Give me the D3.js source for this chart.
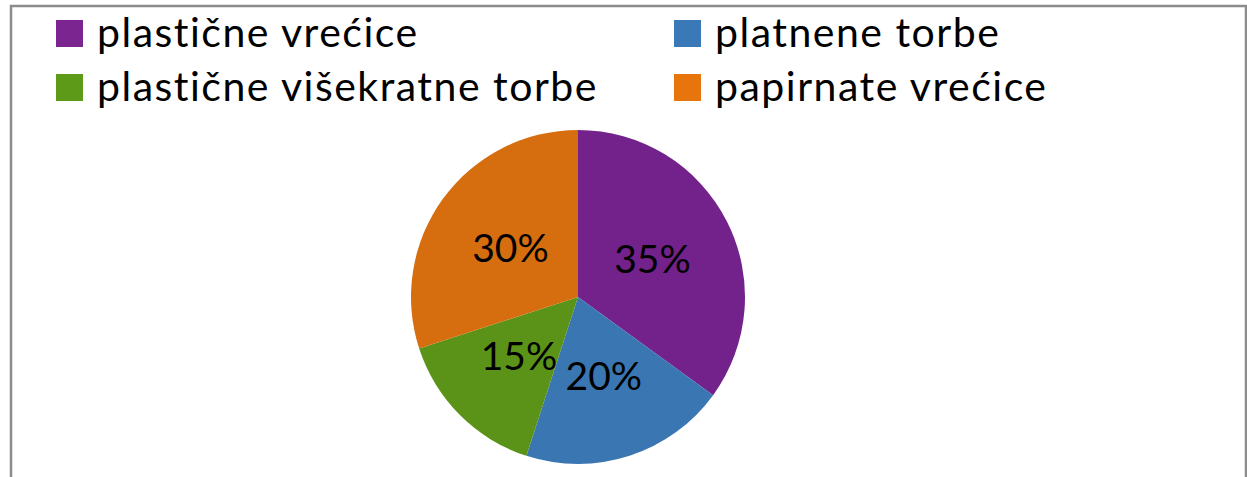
<!DOCTYPE html>
<html>
<head>
<meta charset="utf-8">
<script src="https://cdn.jsdelivr.net/npm/d3@7"></script>
<style>
  body { margin: 0; background: #fff; }
  svg { display: block; font-family: Lato, "Open Sans", sans-serif; }
</style>
</head>
<body>
<div id="chart"></div>
<script>
const categories = ['plastične vrećice', 'platnene torbe', 'plastične višekratne torbe', 'papirnate vrećice'];
const values = [35, 20, 15, 30];
const labels = ['35%', '20%', '15%', '30%'];
const legendColors = ['#7b2590', '#3a78b8', '#5d9a17', '#e8740c'];
const sliceColors = ['#72228a', '#3a77b2', '#5a9317', '#d66e0f'];

function createPie() {
    const width = 1247;
    const height = 477;

    const svg = d3.select('#chart')
        .append('svg')
        .attr('width', width)
        .attr('height', height);

    // chart frame, bottom edge is off the picture
    svg.append('rect')
        .attr('x', 11)
        .attr('y', 6)
        .attr('width', 1235)
        .attr('height', 520)
        .attr('fill', 'none')
        .attr('stroke', '#8c8c8c')
        .attr('stroke-width', 2.5);

    // legend, two columns
    const colX = [56, 674];
    const rowY = [20, 74];
    const legend = svg.append('g').attr('class', 'legend');
    const items = legend.selectAll('g')
        .data(categories)
        .join('g')
        .attr('transform', (d, i) => `translate(${colX[i % 2]}, ${rowY[Math.floor(i / 2)]})`);

    items.append('rect')
        .attr('width', 27)
        .attr('height', 27)
        .attr('fill', (d, i) => legendColors[i]);

    items.append('text')
        .attr('x', 41)
        .attr('y', 27)
        .attr('font-size', 41)
        .attr('letter-spacing', 1.5)
        .attr('fill', '#000')
        .text(d => d);

    // pie, starts at 12 o'clock and runs clockwise
    const cx = 578, cy = 297, r = 167;
    const pie = d3.pie().sort(null).value(d => d)(values);
    const arc = d3.arc().innerRadius(0).outerRadius(r);

    const g = svg.append('g').attr('transform', `translate(${cx}, ${cy})`);

    g.selectAll('path')
        .data(pie)
        .join('path')
        .attr('d', arc)
        .attr('fill', (d, i) => sliceColors[i]);

    g.selectAll('text')
        .data(pie)
        .join('text')
        .attr('transform', d => `translate(${arc.centroid(d)})`)
        .attr('text-anchor', 'middle')
        .attr('dy', '0.36em')
        .attr('font-size', 39)
        .attr('fill', '#000')
        .text((d, i) => labels[i]);
}

createPie();
</script>
</body>
</html>
